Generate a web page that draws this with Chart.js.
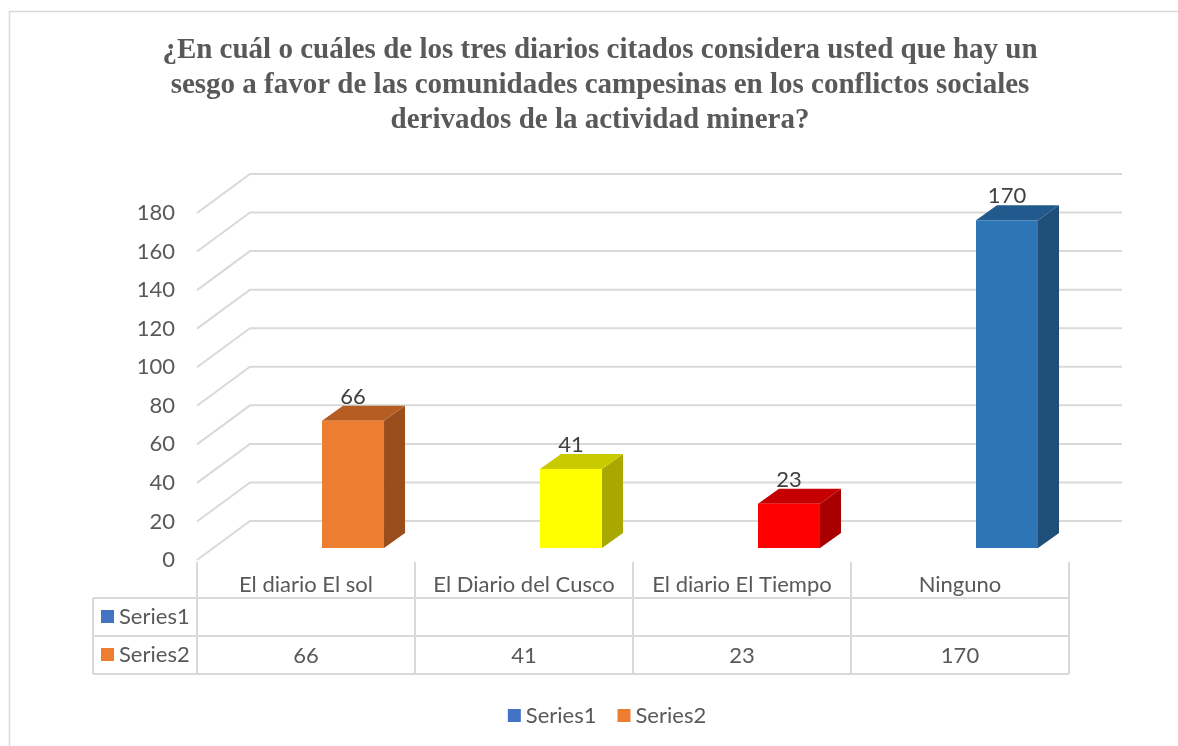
<!DOCTYPE html>
<html>
<head>
<meta charset="utf-8">
<script src="https://cdn.jsdelivr.net/npm/chart.js@4"></script>
<style>
  html, body { margin: 0; padding: 0; background: #fff; }
  #wrap { width: 1178px; height: 746px; }
</style>
</head>
<body>
<div id="wrap"><canvas id="chart" width="1178" height="746"></canvas></div>
<script>
// datos
const categories = ['El diario El sol', 'El Diario del Cusco', 'El diario El Tiempo', 'Ninguno'];
const series1 = [null, null, null, null];
const series2 = [66, 41, 23, 170];
const seriesNames = ['Series1', 'Series2'];
const legendColors = ['#4472C4', '#ED7D31'];
const frontColors = ['#ED7D31', '#FFFF00', '#FF0000', '#2E75B6'];
const sideColors = ['#9A4E1D', '#A8A800', '#A80000', '#1F4E79'];
const topColors = ['#B55D22', '#CACA00', '#C40000', '#225A8D'];
const titleLines = [
  '¿En cuál o cuáles de los tres diarios citados considera usted que hay un',
  'sesgo a favor de las comunidades campesinas en los conflictos sociales',
  'derivados de la actividad minera?'
];

const TEXT = '#595959';
const GRID = '#D9D9D9';
const FONT = 'Lato, "Noto Sans", sans-serif';

// profundidad 3D
const WALL_DX = 53, WALL_DY = 39;
const BAR_SHIFT_X = 16, BAR_SHIFT_Y = 12;
const BAR_DX = 21, BAR_DY = 15;

const threeD = {
  id: 'threeD',
  beforeDraw(chart) {
    const ctx = chart.ctx;
    ctx.save();
    // marco
    ctx.strokeStyle = GRID;
    ctx.lineWidth = 1.5;
    ctx.beginPath();
    ctx.moveTo(9.5, 760);
    ctx.lineTo(9.5, 11.5);
    ctx.lineTo(1190, 11.5);
    ctx.stroke();
    // titulo
    ctx.fillStyle = TEXT;
    ctx.font = 'bold 29px "Liberation Serif", "DejaVu Serif", serif';
    ctx.textAlign = 'center';
    ctx.textBaseline = 'middle';
    titleLines.forEach((t, i) => ctx.fillText(t, 600, 51 + i * 35));
    ctx.restore();
  },
  beforeDatasetsDraw(chart) {
    const ctx = chart.ctx;
    const ys = chart.scales.y;
    const { left, right } = chart.chartArea;
    ctx.save();
    ctx.strokeStyle = GRID;
    ctx.lineWidth = 2;
    ys.ticks.forEach(t => {
      const y = ys.getPixelForValue(t.value);
      ctx.beginPath();
      ctx.moveTo(left, y);
      ctx.lineTo(left + WALL_DX, y - WALL_DY);
      ctx.lineTo(right + WALL_DX, y - WALL_DY);
      ctx.stroke();
    });
    ctx.restore();
  },
  afterDatasetsDraw(chart) {
    const ctx = chart.ctx;
    const meta = chart.getDatasetMeta(1);
    ctx.save();
    meta.data.forEach((el, i) => {
      const p = el.getProps(['x', 'y', 'base', 'width'], true);
      const x0 = p.x - p.width / 2 + BAR_SHIFT_X;
      const x1 = x0 + p.width;
      const yt = p.y - BAR_SHIFT_Y;
      const yb = p.base - BAR_SHIFT_Y;
      // lado
      ctx.fillStyle = sideColors[i];
      ctx.beginPath();
      ctx.moveTo(x1, yb);
      ctx.lineTo(x1 + BAR_DX, yb - BAR_DY);
      ctx.lineTo(x1 + BAR_DX, yt - BAR_DY);
      ctx.lineTo(x1, yt);
      ctx.closePath();
      ctx.fill();
      // arriba
      ctx.fillStyle = topColors[i];
      ctx.beginPath();
      ctx.moveTo(x0, yt);
      ctx.lineTo(x0 + BAR_DX, yt - BAR_DY);
      ctx.lineTo(x1 + BAR_DX, yt - BAR_DY);
      ctx.lineTo(x1, yt);
      ctx.closePath();
      ctx.fill();
      // frente
      ctx.fillStyle = frontColors[i];
      ctx.fillRect(x0, yt, p.width, yb - yt);
      // etiqueta
      ctx.fillStyle = '#404040';
      ctx.font = '22px ' + FONT;
      ctx.textAlign = 'center';
      ctx.textBaseline = 'bottom';
      ctx.fillText(String(series2[i]), (x0 + x1) / 2, yt - BAR_DY + 2);
    });
    ctx.restore();
  },
  afterDraw(chart) {
    const ctx = chart.ctx;
    const xs = chart.scales.x;
    const cw = xs.getPixelForValue(1) - xs.getPixelForValue(0);
    const edges = categories.map((c, i) => xs.getPixelForValue(i) - cw / 2);
    edges.push(edges[edges.length - 1] + cw);
    const rowTop = 562, r1 = 598, r2 = 636, r3 = 674, tLeft = 93;
    ctx.save();
    ctx.strokeStyle = GRID;
    ctx.lineWidth = 2;
    ctx.beginPath();
    edges.forEach(x => { ctx.moveTo(x, rowTop); ctx.lineTo(x, r3); });
    ctx.moveTo(tLeft, r1); ctx.lineTo(tLeft, r3);
    [r1, r2, r3].forEach(y => { ctx.moveTo(tLeft, y); ctx.lineTo(edges[edges.length - 1], y); });
    ctx.stroke();

    ctx.fillStyle = TEXT;
    ctx.font = '22px ' + FONT;
    ctx.textBaseline = 'middle';
    ctx.textAlign = 'center';
    categories.forEach((c, i) => ctx.fillText(c, xs.getPixelForValue(i), 585));
    series2.forEach((v, i) => ctx.fillText(String(v), xs.getPixelForValue(i), 656));

    // filas
    ctx.textAlign = 'left';
    [[r1, r2], [r2, r3]].forEach((r, k) => {
      const cy = (r[0] + r[1]) / 2;
      ctx.fillStyle = legendColors[k];
      ctx.fillRect(101, cy - 7, 13, 13);
      ctx.fillStyle = TEXT;
      ctx.fillText(seriesNames[k], 119, cy);
    });

    // leyenda
    const gap = 21;
    const items = seriesNames.map(n => 18 + ctx.measureText(n).width);
    const total = items.reduce((a, b) => a + b, 0) + gap;
    let lx = 607 - total / 2;
    seriesNames.forEach((n, k) => {
      ctx.fillStyle = legendColors[k];
      ctx.fillRect(lx, 709, 13, 13);
      ctx.fillStyle = TEXT;
      ctx.fillText(n, lx + 18, 716);
      lx += items[k] + gap;
    });
    ctx.restore();
  }
};

const ctx = document.getElementById('chart').getContext('2d');
new Chart(ctx, {
  type: 'bar',
  data: {
    labels: categories,
    datasets: [
      { label: seriesNames[0], data: series1, backgroundColor: 'rgba(0,0,0,0)' },
      { label: seriesNames[1], data: series2, backgroundColor: 'rgba(0,0,0,0)' }
    ]
  },
  options: {
    responsive: false,
    animation: false,
    devicePixelRatio: 1,
    layout: { padding: { top: 213, bottom: 186, left: 0, right: 109 } },
    datasets: { bar: { categoryPercentage: 0.569, barPercentage: 1 } },
    plugins: { legend: { display: false }, tooltip: { enabled: false }, title: { display: false } },
    scales: {
      x: { display: false },
      y: {
        min: 0, max: 180,
        ticks: { stepSize: 20, color: TEXT, font: { family: FONT, size: 22 }, padding: 22 },
        grid: { display: false, drawTicks: false },
        border: { display: false },
        afterFit(scale) { scale.width = 197; }
      }
    }
  },
  plugins: [threeD]
});
</script>
</body>
</html>
